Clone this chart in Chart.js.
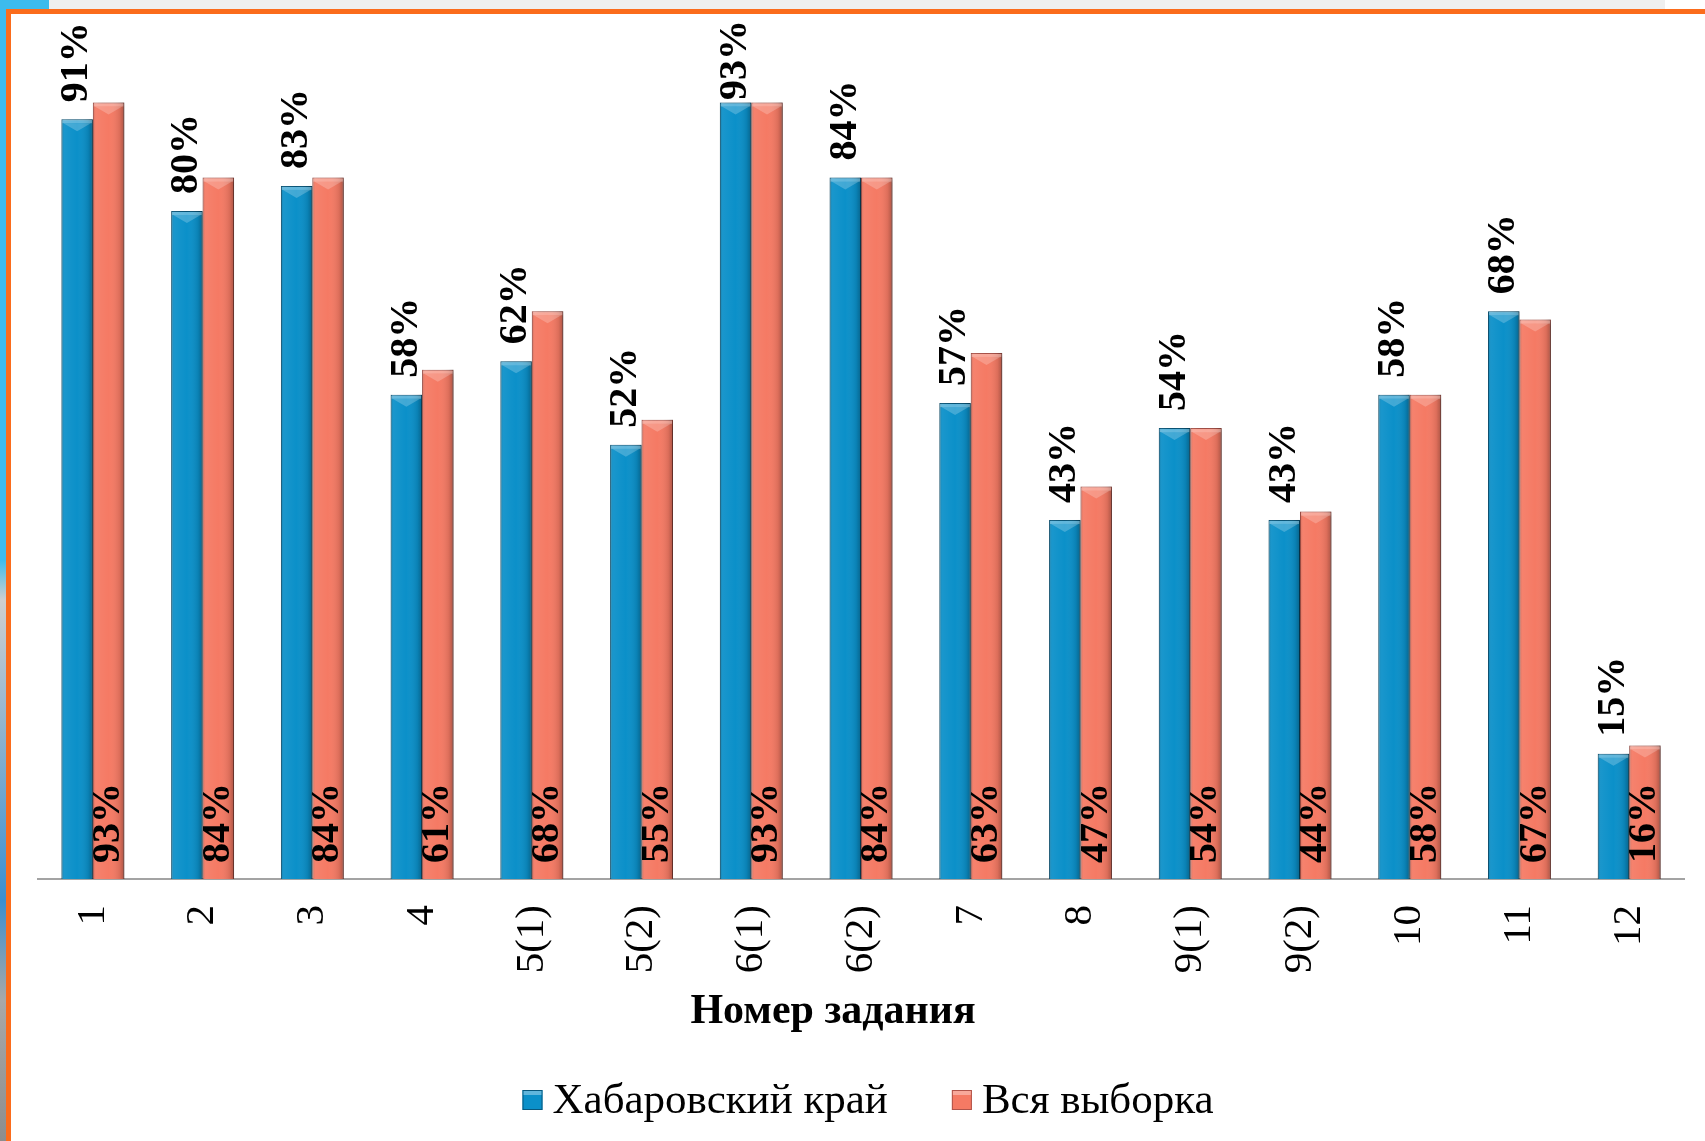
<!DOCTYPE html>
<html lang="ru">
<head>
<meta charset="utf-8">
<title>Номер задания</title>
<script src="https://cdn.jsdelivr.net/npm/chart.js@4.4.1/dist/chart.umd.min.js"></script>
<style>
    html, body { margin: 0; padding: 0; }
    body { width: 1705px; height: 1141px; position: relative; overflow: hidden; background: #efefef; }
    #leftStrip { position: absolute; left: 0; top: 0; width: 8px; height: 1141px;
        background: linear-gradient(#3dbbed 0, #3dbbed 560px, #cfcfcf 600px, #3a8fd0 900px, #a8a8a8 1000px, #8d8d8d 1141px); }
    #corner { position: absolute; left: 0; top: 0; width: 49px; height: 10px; background: #3dbbed; }
    #rightTop { position: absolute; left: 1665px; top: 0; right: 0; height: 10px; background: #fff; }
    #frame { position: absolute; left: 6px; top: 9px; right: 0; bottom: 0; background: #fff;
        border-left: 5px solid #fb6c1c; border-top: 5px solid #fb6c1c; }
    canvas { position: absolute; left: 0; top: 0; }
</style>
</head>
<body>
<div id="leftStrip"></div>
<div id="corner"></div>
<div id="rightTop"></div>
<div id="frame"></div>
<canvas id="tasksChart" width="1705" height="1141"></canvas>

<script>
// Данные диаграммы
const categories = ['1', '2', '3', '4', '5(1)', '5(2)', '6(1)', '6(2)', '7', '8', '9(1)', '9(2)', '10', '11', '12'];
const khabarovskValues = [91, 80, 83, 58, 62, 52, 93, 84, 57, 43, 54, 43, 58, 68, 15];
const allSampleValues = [93, 84, 84, 61, 68, 55, 93, 84, 63, 47, 54, 44, 58, 67, 16];
const seriesNames = ['Хабаровский край', 'Вся выборка'];
const axisTitle = 'Номер задания';

const serif = '"Liberation Serif", "Times New Roman", serif';

// Тень, объёмная заливка, подписи, заголовок оси и легенда
const decorPlugin = {
    id: 'decor',
    beforeDatasetsDraw(chart) {
        const ctx = chart.ctx;
        ctx.save();
        ctx.shadowColor = 'rgba(0, 0, 0, 0.3)';
        ctx.shadowBlur = 5;
        ctx.shadowOffsetX = 3;
        ctx.shadowOffsetY = 1;
    },
    afterDatasetsDraw(chart) {
        const ctx = chart.ctx;
        ctx.restore();

        chart.data.datasets.forEach((ds, di) => {
            chart.getDatasetMeta(di).data.forEach((bar, i) => {
                const { x, y, base, width } = bar.getProps(['x', 'y', 'base', 'width'], true);
                const l = x - width / 2;
                const r = x + width / 2;

                // боковое затенение
                const g = ctx.createLinearGradient(l, 0, r, 0);
                g.addColorStop(0, 'rgba(0, 0, 0, 0.18)');
                g.addColorStop(0.1, 'rgba(255, 255, 255, 0.06)');
                g.addColorStop(0.5, 'rgba(255, 255, 255, 0)');
                g.addColorStop(0.85, 'rgba(0, 0, 0, 0.1)');
                g.addColorStop(1, 'rgba(0, 0, 0, 0.3)');
                ctx.fillStyle = g;
                ctx.fillRect(l, y, width, base - y);

                // скос сверху
                ctx.fillStyle = 'rgba(255, 255, 255, 0.35)';
                ctx.fillRect(l + 1, y + 1, width - 2, 3);
                ctx.beginPath();
                ctx.moveTo(l + 2, y + 4);
                ctx.lineTo(r - 2, y + 4);
                ctx.lineTo(x, y + 12);
                ctx.closePath();
                ctx.fillStyle = 'rgba(255, 255, 255, 0.22)';
                ctx.fill();

                // подпись значения (не выходит за верх области)
                const text = ds.data[i] + '%';
                ctx.save();
                ctx.font = 'bold 40px ' + serif;
                const tw = ctx.measureText(text).width;
                const start = di === 0 ? Math.max(y - 17, 20 + tw) : base - 16;
                ctx.translate(x, start);
                ctx.rotate(-Math.PI / 2);
                ctx.textAlign = 'left';
                ctx.textBaseline = 'middle';
                ctx.fillStyle = '#000';
                ctx.fillText(text, 0, 0);
                ctx.restore();
            });
        });
    },
    afterDraw(chart) {
        const ctx = chart.ctx;
        const area = chart.chartArea;

        // заголовок оси
        ctx.save();
        ctx.font = 'bold 42px ' + serif;
        ctx.textAlign = 'center';
        ctx.textBaseline = 'middle';
        ctx.fillStyle = '#000';
        ctx.fillText(axisTitle, area.left + area.width * 0.483, 1012);

        // легенда
        const boxSize = 20;
        const boxGap = 10;
        const itemGap = 64;
        const legendY = 1100;
        ctx.font = '43px ' + serif;
        const widths = chart.data.datasets.map(ds => ctx.measureText(ds.label).width);
        const total = widths.reduce((s, w) => s + boxSize + boxGap + w, 0) + itemGap;
        let lx = (area.left + area.right) / 2 + 7 - total / 2;
        chart.data.datasets.forEach((ds, di) => {
            ctx.fillStyle = ds.backgroundColor;
            ctx.fillRect(lx, legendY - boxSize / 2, boxSize, boxSize);
            ctx.strokeStyle = ds.borderColor;
            ctx.lineWidth = 1;
            ctx.strokeRect(lx + 0.5, legendY - boxSize / 2 + 0.5, boxSize - 1, boxSize - 1);
            ctx.fillStyle = 'rgba(255, 255, 255, 0.35)';
            ctx.fillRect(lx + 1, legendY - boxSize / 2 + 1, boxSize - 2, 4);
            lx += boxSize + boxGap;
            ctx.fillStyle = '#000';
            ctx.textAlign = 'left';
            ctx.fillText(ds.label, lx, legendY + 2);
            lx += widths[di] + itemGap;
        });
        ctx.restore();
    }
};

const ctx = document.getElementById('tasksChart').getContext('2d');
const tasksChart = new Chart(ctx, {
    type: 'bar',
    data: {
        labels: categories,
        datasets: [
            {
                label: seriesNames[0],
                data: khabarovskValues,
                backgroundColor: '#0b90c9',
                borderColor: '#08587d',
                borderWidth: 1
            },
            {
                label: seriesNames[1],
                data: allSampleValues,
                backgroundColor: '#f57a64',
                borderColor: '#b0544a',
                borderWidth: 1
            }
        ]
    },
    options: {
        responsive: false,
        animation: false,
        devicePixelRatio: 1,
        layout: {
            padding: { left: 38, right: 18, top: 44, bottom: 0 }
        },
        datasets: {
            bar: {
                categoryPercentage: 0.573,
                barPercentage: 1.0
            }
        },
        scales: {
            x: {
                grid: { display: false, drawTicks: false },
                border: { display: true, color: '#a3a3a3', width: 2 },
                ticks: {
                    autoSkip: false,
                    maxRotation: 90,
                    minRotation: 90,
                    padding: 26,
                    color: '#000',
                    font: { family: serif, size: 41 }
                },
                afterFit(scale) {
                    scale.height = 262;
                }
            },
            y: {
                display: false,
                min: 0,
                max: 100
            }
        },
        plugins: {
            legend: { display: false },
            tooltip: { enabled: false }
        }
    },
    plugins: [decorPlugin]
});
</script>
</body>
</html>
